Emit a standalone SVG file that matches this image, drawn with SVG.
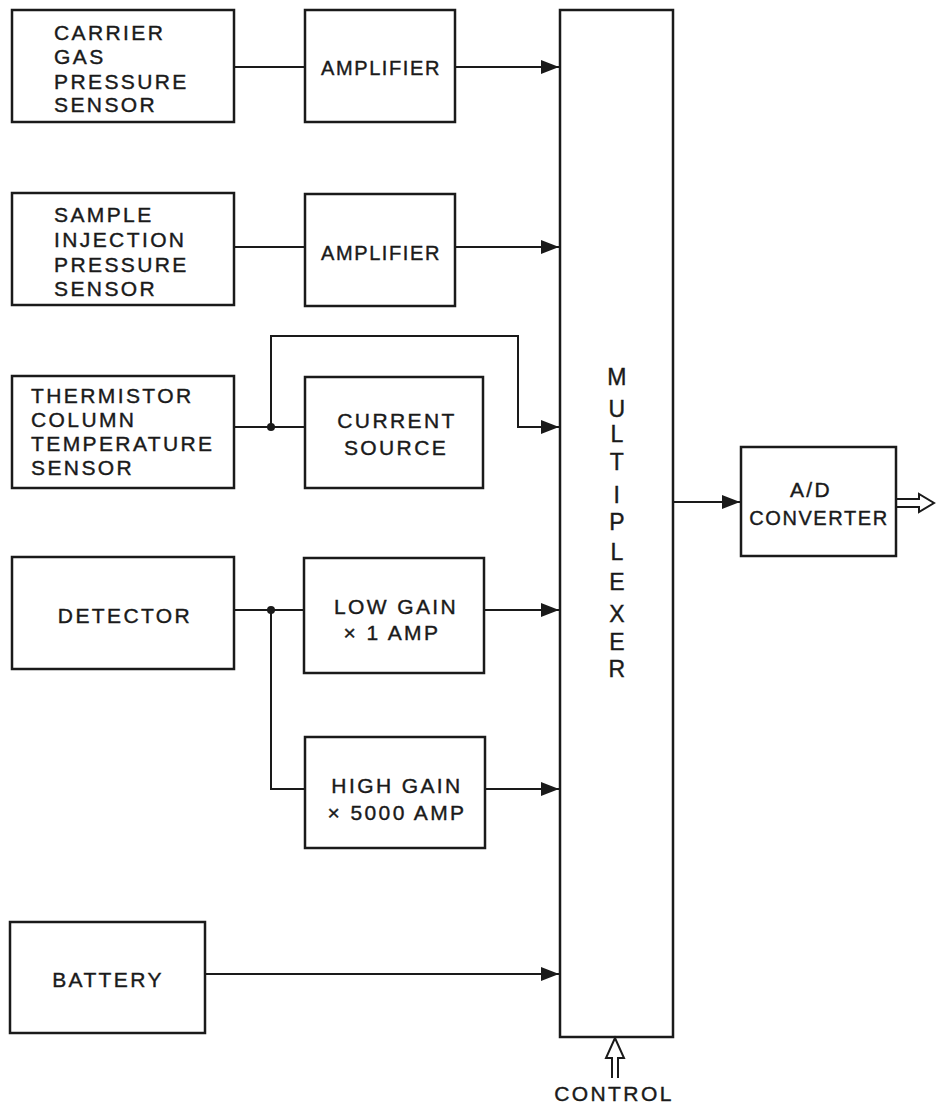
<svg xmlns="http://www.w3.org/2000/svg" width="936" height="1108" viewBox="0 0 936 1108">
<style>
.box{fill:none;stroke:#1a1a1a;stroke-width:2.5}
.ln{fill:none;stroke:#1a1a1a;stroke-width:2}
.t{font-family:"Liberation Sans",Arial,sans-serif;font-size:21px;fill:#1a1a1a;stroke:#1a1a1a;stroke-width:0.4;letter-spacing:2.4px}
.n{font-size:20px;letter-spacing:1.6px}
.c{text-anchor:middle}
.dot{fill:#1a1a1a}
</style>
<defs>
<marker id="ah" markerWidth="20" markerHeight="14" refX="18" refY="7" orient="auto" markerUnits="userSpaceOnUse">
<path d="M0,0 L18,7 L0,14 Z" fill="#1a1a1a"/>
</marker>
</defs>
<rect width="936" height="1108" fill="#fff"/>
<g id="carrier">
<rect class="box" x="12" y="10" width="222" height="112"/>
<text class="t" x="54" y="40">CARRIER</text>
<text class="t" x="54" y="64">GAS</text>
<text class="t" x="54" y="89">PRESSURE</text>
<text class="t" x="54" y="112">SENSOR</text>
</g>
<g id="amp1">
<rect class="box" x="305" y="10" width="150" height="112"/>
<text class="t n c" x="381" y="75">AMPLIFIER</text>
</g>
<g id="sample">
<rect class="box" x="12" y="193" width="222" height="112"/>
<text class="t" x="54" y="222">SAMPLE</text>
<text class="t" x="54" y="247">INJECTION</text>
<text class="t" x="54" y="272">PRESSURE</text>
<text class="t" x="54" y="296">SENSOR</text>
</g>
<g id="amp2">
<rect class="box" x="305" y="194" width="150" height="112"/>
<text class="t n c" x="381" y="260">AMPLIFIER</text>
</g>
<g id="thermistor">
<rect class="box" x="12" y="376" width="222" height="112"/>
<text class="t" x="31" y="403">THERMISTOR</text>
<text class="t" x="31" y="427">COLUMN</text>
<text class="t" x="31" y="451">TEMPERATURE</text>
<text class="t" x="31" y="475">SENSOR</text>
</g>
<g id="current">
<rect class="box" x="305" y="377" width="178" height="111"/>
<text class="t c" x="397" y="428">CURRENT</text>
<text class="t c" x="396" y="455">SOURCE</text>
</g>
<g id="detector">
<rect class="box" x="12" y="557" width="222" height="112"/>
<text class="t c" x="125" y="623">DETECTOR</text>
</g>
<g id="lowgain">
<rect class="box" x="304" y="558" width="180" height="115"/>
<text class="t c" x="396" y="614">LOW GAIN</text>
<text class="t c" x="392" y="640">× 1 AMP</text>
</g>
<g id="highgain">
<rect class="box" x="305" y="737" width="180" height="111"/>
<text class="t c" x="397" y="793">HIGH GAIN</text>
<text class="t c" x="397" y="820">× 5000 AMP</text>
</g>
<g id="battery">
<rect class="box" x="10" y="922" width="195" height="111"/>
<text class="t c" x="108" y="987">BATTERY</text>
</g>
<g id="multiplexer">
<rect class="box" x="560" y="10" width="113" height="1027"/>
<g class="t c" style="font-size:23px">
<text x="618" y="385">M</text>
<text x="618" y="417">U</text>
<text x="618" y="442">L</text>
<text x="618" y="470">T</text>
<text x="618" y="503">I</text>
<text x="618" y="530">P</text>
<text x="618" y="560">L</text>
<text x="618" y="590">E</text>
<text x="618" y="622">X</text>
<text x="618" y="650">E</text>
<text x="618" y="677">R</text>
</g>
</g>
<g id="adc">
<rect class="box" x="741" y="447" width="155" height="109"/>
<text class="t c" x="811" y="497">A/D</text>
<text class="t n c" x="819" y="525">CONVERTER</text>
</g>
<g id="control">
<text class="t c" x="614" y="1101">CONTROL</text>
</g>
<g id="connectors">
<line class="ln" x1="234" y1="67" x2="305" y2="67"/>
<line class="ln" x1="455" y1="67" x2="559" y2="67" marker-end="url(#ah)"/>
<line class="ln" x1="234" y1="247" x2="305" y2="247"/>
<line class="ln" x1="455" y1="247" x2="559" y2="247" marker-end="url(#ah)"/>
<line class="ln" x1="234" y1="427" x2="305" y2="427"/>
<polyline class="ln" points="271,427 271,336 518,336 518,427 559,427" marker-end="url(#ah)"/>
<circle class="dot" cx="271" cy="427" r="4"/>
<line class="ln" x1="234" y1="610" x2="304" y2="610"/>
<polyline class="ln" points="271,610 271,789 305,789"/>
<circle class="dot" cx="271" cy="610" r="4"/>
<line class="ln" x1="484" y1="610" x2="559" y2="610" marker-end="url(#ah)"/>
<line class="ln" x1="485" y1="789" x2="559" y2="789" marker-end="url(#ah)"/>
<line class="ln" x1="205" y1="974" x2="559" y2="974" marker-end="url(#ah)"/>
<line class="ln" x1="673" y1="502" x2="740" y2="502" marker-end="url(#ah)"/>
<path class="ln" d="M896,499 L919,499 L919,494 L934,503 L919,512 L919,507 L896,507"/>
<path class="ln" d="M612,1078 L612,1058 L606,1058 L615,1038 L624,1058 L618,1058 L618,1078"/>
</g>
</svg>
